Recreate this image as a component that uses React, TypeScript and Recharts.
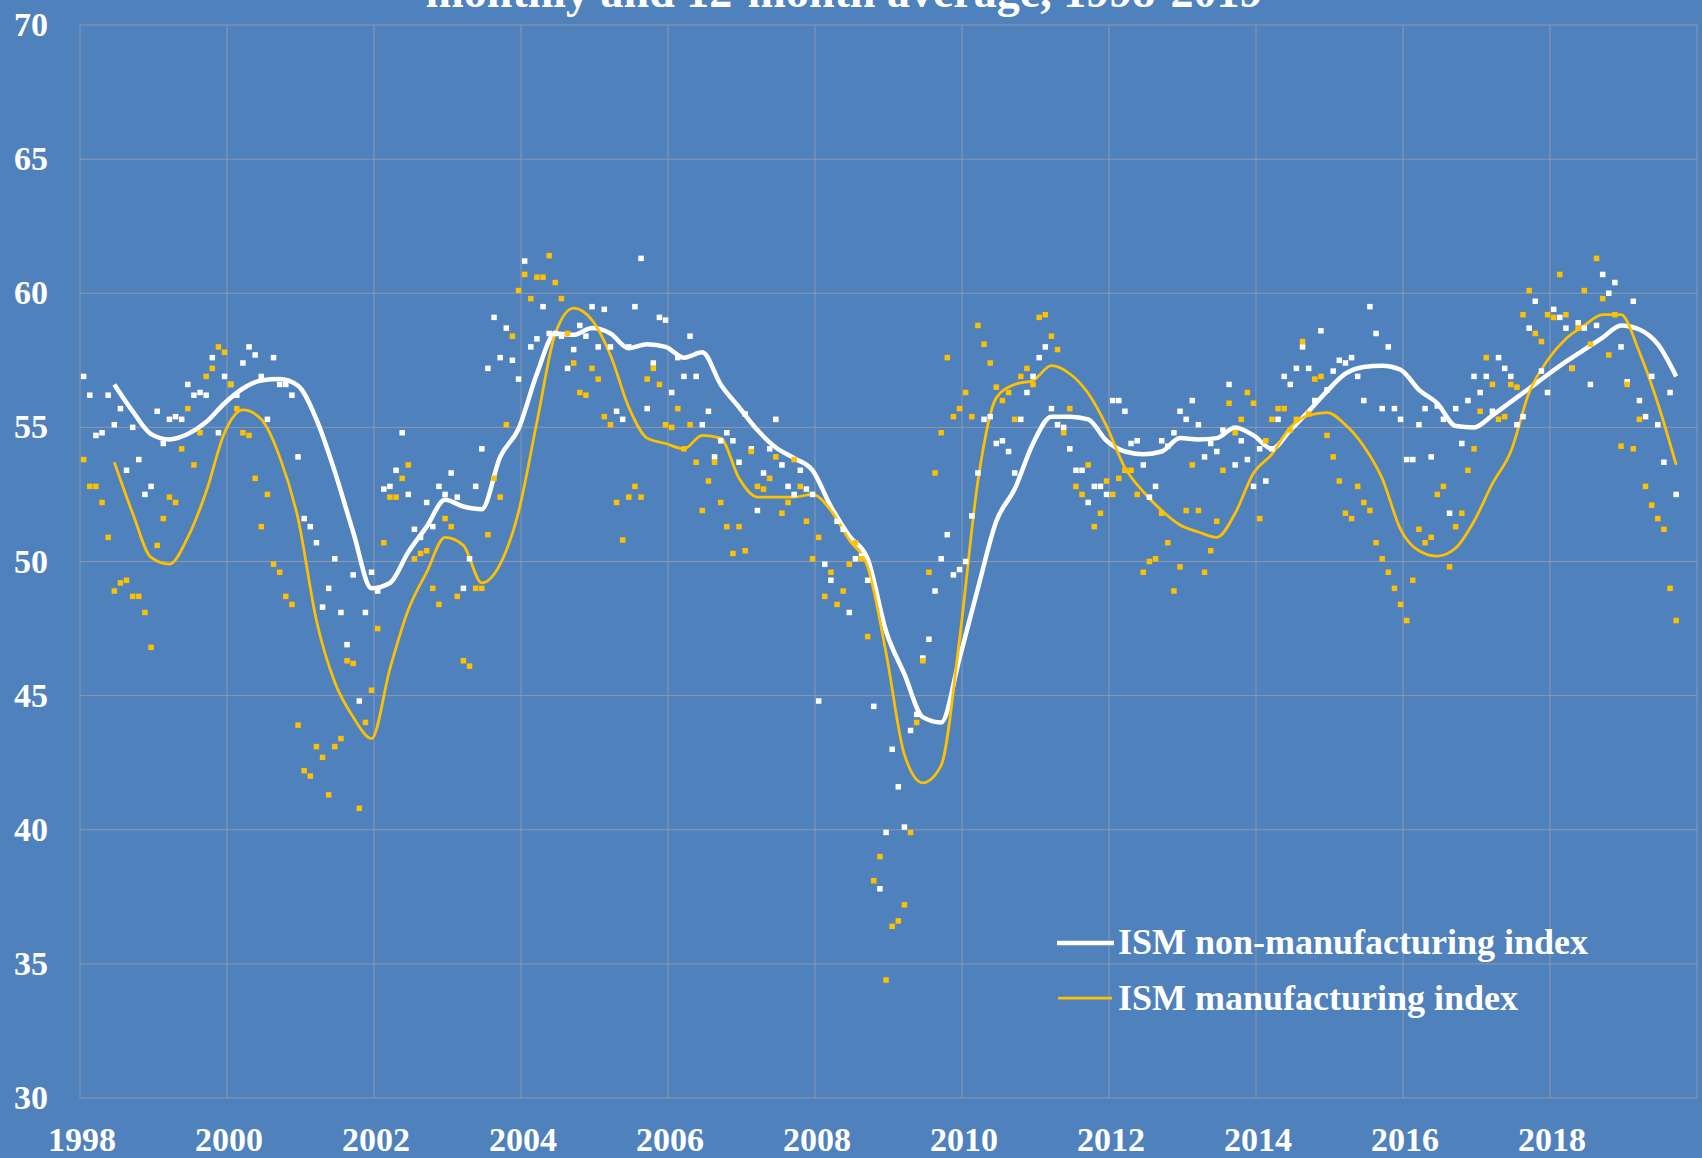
import {
  CartesianGrid,
  ComposedChart,
  Legend,
  Line,
  Scatter,
  XAxis,
  YAxis,
} from "recharts";

const WIDTH = 1702;
const HEIGHT = 1158;
const BG = "#4F81BD";
const GRID = "#8C99AE";
const GOLD = "#FFC000";
const WHITE = "#FFFFFF";
const FONT = "'Liberation Serif', 'Times New Roman', serif";

const START_YEAR = 1998;

// ISM non-manufacturing, monthly, Jan 1998 - Sep 2019 (one row per year)
const nonMfgMonthly: number[][] = [
  [56.9, 56.2, 54.7, 54.8, 56.2, 55.1, 55.7, 53.4, 55.0, 53.8, 52.5, 52.8],
  [55.6, 54.4, 55.3, 55.4, 55.3, 56.6, 56.2, 56.3, 56.2, 57.6, 54.8, 56.9],
  [56.6, 56.2, 57.4, 58.0, 57.7, 56.9, 55.3, 57.6, 56.6, 56.6, 56.2, 53.9],
  [51.6, 51.3, 50.7, 48.3, 49.0, 50.1, 48.1, 46.9, 49.5, 44.8, 48.1, 49.6],
  [48.9, 52.7, 52.8, 53.4, 54.8, 52.5, 51.2, 50.9, 52.2, 51.3, 52.8, 52.5],
  [53.3, 52.4, 49.0, 50.1, 52.8, 54.2, 57.2, 59.1, 57.6, 58.7, 57.5, 56.8],
  [61.2, 58.0, 58.3, 59.5, 58.5, 58.5, 58.4, 57.2, 57.9, 58.8, 58.4, 59.5],
  [58.0, 59.4, 58.0, 55.6, 55.3, 58.0, 59.5, 61.3, 55.7, 57.4, 59.1, 59.0],
  [56.3, 57.6, 56.9, 58.4, 56.9, 55.1, 55.6, 53.9, 54.5, 54.8, 54.5, 53.7],
  [55.5, 54.2, 51.9, 53.3, 54.2, 55.3, 53.6, 52.8, 52.5, 53.4, 52.7, 52.5],
  [44.8, 49.9, 49.3, 51.5, 51.2, 48.1, 50.1, 50.2, 49.3, 44.6, 37.8, 39.9],
  [43.0, 41.6, 40.1, 43.7, 44.3, 46.4, 47.1, 48.9, 50.1, 51.0, 49.5, 49.7],
  [50.0, 51.7, 53.3, 55.3, 55.4, 54.4, 54.5, 54.1, 53.3, 55.3, 56.3, 56.9],
  [57.6, 58.0, 55.7, 55.1, 55.0, 54.2, 53.4, 53.4, 52.2, 52.8, 52.8, 52.5],
  [56.0, 56.0, 55.6, 54.4, 54.5, 53.6, 52.4, 52.8, 54.5, 54.3, 54.8, 55.6],
  [55.3, 56.0, 55.1, 53.9, 54.4, 54.1, 54.9, 56.6, 53.6, 54.5, 53.8, 52.8],
  [54.2, 53.0, 54.2, 55.3, 56.9, 56.6, 57.2, 58.0, 57.2, 56.0, 58.6, 56.4],
  [57.1, 57.5, 57.4, 57.6, 56.9, 56.0, 59.5, 58.5, 55.7, 58.0, 55.7, 55.3],
  [53.8, 53.8, 55.1, 55.7, 53.9, 55.8, 55.3, 51.8, 55.7, 54.4, 56.0, 56.9],
  [56.3, 56.9, 55.6, 57.6, 57.2, 56.9, 55.1, 55.4, 58.7, 59.7, 57.1, 56.3],
  [59.4, 59.1, 58.7, 57.2, 58.9, 58.7, 56.6, 58.8, 60.7, 60.0, 60.4, 58.0],
  [56.7, 59.7, 56.0, 55.4, 56.9, 55.1, 53.7, 56.3, 52.5],
];

// ISM manufacturing, monthly, Jan 1998 - Sep 2019
const mfgMonthly: number[][] = [
  [53.8, 52.8, 52.8, 52.2, 50.9, 48.9, 49.2, 49.3, 48.7, 48.7, 48.1, 46.8],
  [50.6, 51.6, 52.4, 52.2, 54.2, 55.7, 53.6, 54.8, 56.9, 57.2, 58.0, 57.8],
  [56.6, 55.7, 54.8, 54.7, 53.1, 51.3, 52.5, 49.9, 49.6, 48.7, 48.4, 43.9],
  [42.2, 42.0, 43.1, 42.7, 41.3, 43.1, 43.4, 46.3, 46.2, 40.8, 44.0, 45.2],
  [47.5, 50.7, 52.4, 52.4, 53.1, 53.6, 50.1, 50.3, 50.4, 49.0, 48.4, 51.6],
  [51.3, 48.7, 46.3, 46.1, 49.0, 49.0, 51.0, 53.1, 52.4, 55.1, 58.4, 60.1],
  [60.7, 59.8, 60.6, 60.6, 61.4, 60.4, 59.8, 58.5, 57.4, 56.3, 56.2, 57.2],
  [56.8, 55.4, 55.1, 52.2, 50.8, 52.4, 52.8, 52.4, 56.8, 57.2, 56.6, 55.1],
  [55.0, 55.7, 54.2, 55.1, 53.7, 51.9, 53.0, 53.7, 52.2, 51.3, 50.3, 51.3],
  [50.4, 54.1, 52.8, 52.7, 53.1, 53.9, 51.8, 52.2, 53.8, 52.8, 51.5, 50.1],
  [50.9, 48.7, 49.6, 48.4, 48.9, 49.9, 50.7, 50.1, 47.2, 38.1, 39.0, 34.4],
  [36.4, 36.6, 37.2, 39.9, 44.0, 46.3, 49.6, 53.3, 54.8, 57.6, 55.4, 55.7],
  [56.3, 55.4, 58.8, 58.1, 57.4, 56.5, 56.0, 56.3, 55.3, 56.9, 57.2, 56.6],
  [59.1, 59.2, 58.4, 57.9, 54.8, 55.7, 52.8, 52.5, 53.6, 51.3, 51.8, 53.0],
  [52.5, 53.1, 53.4, 53.4, 52.5, 49.6, 50.0, 50.1, 51.8, 50.7, 48.9, 49.8],
  [51.9, 53.6, 51.9, 49.6, 50.4, 51.5, 53.4, 55.9, 54.8, 55.3, 56.3, 55.9],
  [51.6, 54.5, 55.3, 55.7, 55.7, 54.9, 55.3, 58.2, 55.5, 56.8, 56.9, 54.7],
  [53.9, 53.0, 51.8, 51.6, 52.8, 52.2, 51.9, 50.7, 50.1, 49.6, 49.0, 48.4],
  [47.8, 49.3, 51.2, 50.7, 50.9, 52.5, 52.8, 49.8, 51.3, 51.8, 53.4, 54.2],
  [55.6, 57.6, 56.6, 55.3, 55.4, 56.6, 56.5, 59.2, 60.1, 58.5, 58.2, 59.2],
  [59.1, 60.7, 59.2, 57.2, 58.7, 60.1, 58.1, 61.3, 59.8, 57.7, 59.2, 54.3],
  [56.6, 54.2, 55.3, 52.8, 52.1, 51.6, 51.2, 49.0, 47.8],
];

const AVG_START = 5;
const AVG_STEP = 3;
const nonMfgAvg = [
  56.6, 55.6, 54.75, 54.55, 54.75, 55.2, 55.9, 56.45, 56.75, 56.8,
  56.55, 55.3, 53.35, 51.1, 49.0, 49.2, 50.35, 51.3, 52.3, 52.05,
  51.95, 53.9, 54.95, 57.0, 58.5, 58.45, 58.7, 58.5, 57.95, 58.1,
  58.0, 57.6, 57.8, 56.6, 55.75, 54.9, 54.25, 53.85, 53.4, 52.05,
  50.95, 50.1, 47.4, 45.8, 44.2, 44.0, 46.4, 49.0, 51.5, 52.7,
  54.4, 55.4, 55.4, 55.3, 54.5, 54.1, 54.0, 54.1, 54.6, 54.55,
  54.6, 55.0, 54.7, 54.2, 54.9, 55.6, 56.35, 57.0, 57.25, 57.3,
  57.15, 56.4, 55.9, 55.05, 55.0, 55.45, 55.95, 56.45, 56.96, 57.45,
  57.9, 58.35, 58.8, 58.65, 58.1, 56.9,
];
const mfgAvg = [
  53.7, 51.8, 50.15, 49.9, 50.9, 52.6, 54.8, 55.65, 55.3, 53.9,
  51.6, 47.8, 45.5, 44.2, 43.4, 46.0, 48.2, 49.6, 50.9, 50.6,
  49.2, 49.9, 51.85, 55.2, 58.5, 59.45, 59.0, 57.7, 55.75, 54.6,
  54.4, 54.2, 54.7, 54.6, 53.1, 52.4, 52.4, 52.4, 52.5, 51.9,
  50.8, 49.8, 46.6, 42.8, 41.75, 42.4, 47.1, 53.0, 56.1, 56.6,
  56.75, 57.3, 57.0, 56.27, 55.05, 53.5, 52.6, 51.9, 51.36, 51.1,
  50.9, 51.8, 53.3, 54.0, 55.0, 55.45, 55.55, 55.1, 54.3, 53.1,
  51.2, 50.4, 50.2, 50.5, 51.5, 52.9, 54.1, 56.3, 57.5, 58.3,
  58.8, 59.2, 59.2, 57.8, 55.9, 53.6,
];

const yearTicks = [1998, 2000, 2002, 2004, 2006, 2008, 2010, 2012, 2014, 2016, 2018, 2020];
const valueTicks = [30, 35, 40, 45, 50, 55, 60, 65, 70];

const monthPos = (i: number) => START_YEAR + (i + 0.6) / 12;

const monthlyPoints = (rows: number[][]) =>
  rows.flat().map((v, i) => ({ x: monthPos(i), y: v }));

const avgPoints = (vals: number[]) =>
  vals.map((v, k) => ({ x: monthPos(AVG_START + k * AVG_STEP), y: v }));

const square = (color: string) => (props: any) =>
  <rect x={props.cx - 2.75} y={props.cy - 2.75} width={5.5} height={5.5} fill={color} />;

function YTick({ x, y, payload }: any) {
  return (
    <text x={x} y={y} dy={11} textAnchor="end" fill={WHITE} fontFamily={FONT} fontWeight="bold" fontSize={34}>
      {payload.value}
    </text>
  );
}

function XTick({ x, y, payload }: any) {
  if (payload.value === 2020) return <g />;
  return (
    <text x={x} y={y} dx={2} dy={53} textAnchor="middle" fill={WHITE} fontFamily={FONT} fontWeight="bold" fontSize={34}>
      {payload.value}
    </text>
  );
}

function LegendBox() {
  return (
    <svg width={600} height={110} style={{ display: "block" }}>
      <line x1={1} x2={58} y1={28} y2={28} stroke={WHITE} strokeWidth={4.5} />
      <line x1={2} x2={56} y1={83} y2={83} stroke={GOLD} strokeWidth={2.75} />
      <text x={62} y={39} fill={WHITE} fontFamily={FONT} fontWeight="bold" fontSize={36}>
        ISM non-manufacturing index
      </text>
      <text x={62} y={95} fill={WHITE} fontFamily={FONT} fontWeight="bold" fontSize={36}>
        ISM manufacturing index
      </text>
    </svg>
  );
}

export default function App() {
  return (
    <div style={{ position: "absolute", left: 0, top: 0, width: WIDTH, height: HEIGHT, background: BG, overflow: "hidden" }}>
      <div
        style={{
          position: "absolute",
          left: 244,
          top: -31,
          width: 1200,
          textAlign: "center",
          color: WHITE,
          fontFamily: FONT,
          fontWeight: "bold",
          fontSize: 46,
          lineHeight: "46px",
          whiteSpace: "nowrap",
        }}
      >
        monthly and 12-month average, 1998-2019
      </div>
      <ComposedChart width={WIDTH} height={HEIGHT} margin={{ top: 25, right: 5, bottom: 0, left: 0 }}>
        <CartesianGrid stroke={GRID} strokeWidth={1} />
        <XAxis
          dataKey="x"
          type="number"
          domain={[1998, 2020]}
          ticks={yearTicks}
          allowDataOverflow
          axisLine={false}
          tickLine={false}
          tickSize={0}
          tickMargin={0}
          height={60}
          interval={0}
          tick={<XTick />}
        />
        <YAxis
          dataKey="y"
          type="number"
          domain={[30, 70]}
          ticks={valueTicks}
          allowDataOverflow
          axisLine={false}
          tickLine={false}
          tickSize={0}
          tickMargin={32}
          width={80}
          interval={0}
          tick={<YTick />}
        />
        <Legend
          layout="vertical"
          align="center"
          verticalAlign="middle"
          content={() => <LegendBox />}
          wrapperStyle={{ left: 1056, top: 915, width: 600, height: 110 }}
        />
        <Line
          data={avgPoints(nonMfgAvg)}
          dataKey="y"
          name="ISM non-manufacturing index"
          type="monotone"
          stroke={WHITE}
          strokeWidth={4.5}
          dot={false}
          isAnimationActive={false}
        />
        <Line
          data={avgPoints(mfgAvg)}
          dataKey="y"
          name="ISM manufacturing index"
          type="monotone"
          stroke={GOLD}
          strokeWidth={2.75}
          dot={false}
          isAnimationActive={false}
        />
        <Scatter
          data={monthlyPoints(nonMfgMonthly)}
          dataKey="y"
          shape={square(WHITE)}
          isAnimationActive={false}
        />
        <Scatter
          data={monthlyPoints(mfgMonthly)}
          dataKey="y"
          shape={square(GOLD)}
          isAnimationActive={false}
        />
      </ComposedChart>
    </div>
  );
}
